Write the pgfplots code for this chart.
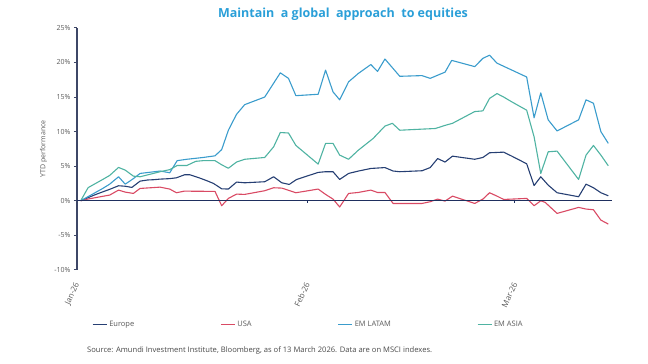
\documentclass[border=0pt]{standalone}
\usepackage{fontspec}
\setmainfont{Open Sans}
\usepackage{pgfplots}
\pgfplotsset{compat=1.18}
\definecolor{europe}{HTML}{263F73}
\definecolor{usa}{HTML}{D94A64}
\definecolor{latam}{HTML}{3A9CCC}
\definecolor{asia}{HTML}{4FB3A2}
\definecolor{titleblue}{HTML}{2A9FD8}
\definecolor{axisgray}{HTML}{3E4767}
\definecolor{labelgray}{HTML}{5A5A5A}
\definecolor{zeronavy}{HTML}{1F2F5F}
\begin{document}
\begin{tikzpicture}
\path[use as bounding box] (-77pt,-94.1pt) rectangle (571pt,269.9pt);
\begin{axis}[
  scale only axis, width=535pt, height=242pt,
  xmin=0, xmax=72.1, ymin=-10, ymax=25,
  axis y line*=left, axis x line*=bottom,
  x axis line style={draw=none},
  y axis line style={draw=axisgray, line width=1.1pt},
  xtick={0,31,59}, xticklabels={Jan-26,Feb-26,Mar-26},
  major x tick style={draw=none},
  ytick={-10,-5,0,5,10,15,20,25},
  yticklabels={-10\%,-5\%,0\%,5\%,10\%,15\%,20\%,25\%},
  tick align=outside, major tick length=3pt,
  ytick style={draw=axisgray, line width=1pt},
  tick label style={font=\fontsize{7}{8}\selectfont, text=labelgray},
  xticklabel style={inner sep=0pt, anchor=east, xshift=0.5pt, yshift=-10pt, rotate=65, font=\fontsize{8}{9}\selectfont},
  ylabel={YTD performance},
  ylabel style={at={(axis description cs:-0.0626,0.5)}, anchor=center, font=\fontsize{7}{8}\selectfont, text=labelgray},
  legend columns=4,
  legend style={draw=none, at={(0.028,-0.227)}, anchor=west, font=\fontsize{7.5}{9}\selectfont, text=labelgray, inner sep=0pt,
    /tikz/every even column/.append style={column sep=84pt}},
  legend image code/.code={\draw[#1] (0pt,0pt) -- (14pt,0pt);},
  legend cell align=left,
  every axis plot/.append style={line width=1.1pt, line join=round},
]
\addplot[europe] coordinates {(0.5,0) (1.5,0.45) (2.5,0.9) (3.5,1.3) (4.4,1.65) (5.6,2.17) (6.5,2.1) (7.4,1.93) (8.5,2.84) (9.5,3.0) (10.4,3.05) (11.2,3.13) (12.5,3.2) (13.4,3.32) (14.5,3.76) (15.2,3.76) (16.5,3.3) (17.5,2.9) (18.4,2.5) (19.5,1.73) (20.4,1.69) (21.5,2.7) (22.6,2.6) (25.3,2.75) (26.5,3.47) (27.6,2.6) (28.6,2.36) (29.6,3.08) (32.5,4.1) (33.5,4.2) (34.5,4.2) (35.4,3.08) (36.6,3.95) (37.9,4.29) (39.6,4.67) (41.5,4.8) (42.6,4.3) (43.5,4.2) (46.5,4.34) (47.6,4.8) (48.6,6.1) (49.6,5.6) (50.6,6.45) (53.6,6.0) (54.7,6.26) (55.6,6.94) (57.5,7.03) (58.6,6.45) (60.6,5.35) (61.6,2.2) (62.5,3.47) (63.5,2.26) (64.7,1.16) (67.6,0.58) (68.6,2.4) (69.6,1.88) (70.6,1.16) (71.6,0.72)};
\addlegendentry{Europe}
\addplot[usa] coordinates {(0.5,0) (1.5,0.25) (2.5,0.45) (3.5,0.65) (4.4,0.82) (5.6,1.54) (6.5,1.25) (7.6,1.06) (8.5,1.78) (11.2,1.97) (12.5,1.69) (13.4,1.16) (14.5,1.4) (15.5,1.38) (16.5,1.38) (17.5,1.36) (18.6,1.35) (19.5,-0.72) (20.4,0.34) (21.5,0.96) (22.6,0.92) (25.3,1.45) (26.5,1.88) (27.6,1.83) (29.5,1.16) (32.5,1.69) (33.5,0.92) (34.5,0.24) (35.4,-0.9) (36.6,1.06) (37.9,1.2) (39.6,1.54) (40.5,1.2) (41.5,1.2) (42.6,-0.39) (43.5,-0.39) (46.5,-0.39) (47.6,-0.14) (48.6,0.24) (49.6,-0.05) (50.6,0.67) (53.6,-0.39) (54.7,0.24) (55.6,1.16) (56.6,0.67) (57.5,0.19) (58.6,0.24) (60.6,0.34) (61.6,-0.72) (62.5,0) (63.1,-0.24) (64.7,-1.83) (67.6,-0.96) (68.6,-1.2) (69.6,-1.3) (70.6,-2.8) (71.6,-3.37)};
\addlegendentry{USA}
\addplot[latam] coordinates {(0.5,0) (1.5,0.6) (2.5,1.2) (3.5,1.8) (4.4,2.4) (5.6,3.47) (6.5,2.4) (7.6,3.2) (8.5,3.95) (11.2,4.3) (12.5,4.05) (13.5,5.8) (14.8,6.0) (17,6.26) (18.6,6.5) (19.5,7.4) (20.4,10.2) (21.5,12.5) (22.6,13.9) (25.3,15.0) (27.4,18.5) (28.5,17.7) (29.5,15.2) (32.5,15.4) (33.5,18.9) (34.5,15.75) (35.4,14.6) (36.6,17.2) (37.9,18.4) (39.6,19.7) (40.5,18.7) (41.5,20.5) (43.5,18.0) (46.5,18.1) (47.6,17.7) (48.7,18.2) (49.6,18.6) (50.5,20.3) (53.6,19.4) (54.7,20.6) (55.6,21.05) (56.6,19.9) (58.6,18.9) (60.6,17.9) (61.6,12.0) (62.5,15.6) (63.5,11.7) (64.7,10.1) (67.6,11.7) (68.6,14.6) (69.6,14.1) (70.6,10.0) (71.6,8.3)};
\addlegendentry{EM LATAM}
\addplot[asia] coordinates {(0.5,0) (1.5,1.9) (2.5,2.5) (3.5,3.1) (4.4,3.66) (5.6,4.82) (6.5,4.43) (7.6,3.56) (8.5,3.47) (11.2,4.2) (12.5,4.5) (13.5,5.1) (14.8,5.1) (16,5.7) (17,5.8) (18.6,5.8) (19.5,5.2) (20.4,4.7) (21.5,5.6) (22.6,6.0) (25.3,6.26) (26.5,7.8) (27.4,9.87) (28.5,9.8) (29.5,8.0) (32.5,5.3) (33.5,8.3) (34.5,8.3) (35.4,6.6) (36.6,6.0) (37.9,7.3) (39.9,9.0) (41.5,10.8) (42.5,11.2) (43.5,10.2) (46.5,10.36) (48.3,10.45) (49.6,10.9) (50.6,11.2) (53.6,12.9) (54.7,13.0) (55.6,14.8) (56.6,15.5) (57.5,15.0) (58.6,14.3) (60.6,13.1) (61.6,9.25) (62.5,3.95) (63.5,7.08) (64.7,7.18) (67.6,3.08) (68.6,6.6) (69.6,8.0) (70.6,6.6) (71.6,5.06)};
\addlegendentry{EM ASIA}
\draw[zeronavy, line width=1.1pt] (axis cs:0,0) -- (axis cs:72.1,0);
\draw[zeronavy, line width=0.8pt] (axis cs:31,0) -- ([yshift=-2.5pt]axis cs:31,0);
\draw[zeronavy, line width=0.8pt] (axis cs:59,0) -- ([yshift=-2.5pt]axis cs:59,0);
\end{axis}
\node[font=\fontsize{12.5}{15}\selectfont\bfseries, text=titleblue] at (266pt,256pt) {Maintain\ \ a global\ \ approach\ \ to equities};
\node[anchor=west, font=\fontsize{7.6}{9}\selectfont, text=labelgray!80!black, inner sep=0pt] at (10pt,-81pt) {Source: Amundi Investment Institute, Bloomberg, as of 13 March 2026. Data are on MSCI indexes.};
\end{tikzpicture}
\end{document}
